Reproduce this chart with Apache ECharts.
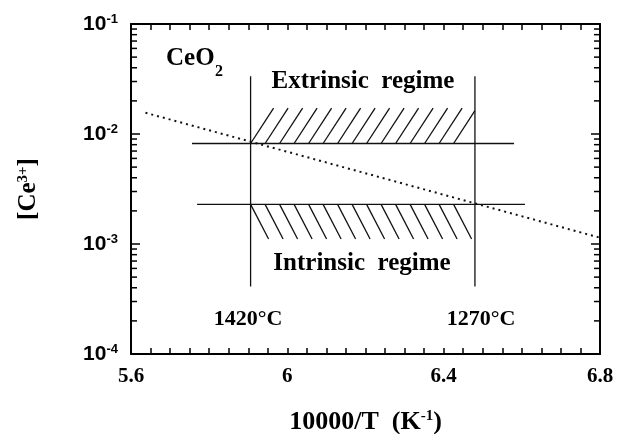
<!DOCTYPE html>
<html><head><meta charset="utf-8">
<script src="https://cdn.jsdelivr.net/npm/echarts@6/dist/echarts.min.js"></script>
<style>html,body{margin:0;padding:0;background:#fff}#c{width:618px;height:434px}</style>
</head><body><div id="c"></div>
<script>
// ---- data ----
const xTickLabels = ['5.6', '6', '6.4', '6.8'];
const yTickExponents = ['-4', '-3', '-2', '-1'];
const yMinorTicks = [2e-4, 3e-4, 4e-4, 5e-4, 6e-4, 7e-4, 8e-4, 9e-4,
                     2e-3, 3e-3, 4e-3, 5e-3, 6e-3, 7e-3, 8e-3, 9e-3,
                     2e-2, 3e-2, 4e-2, 5e-2, 6e-2, 7e-2, 8e-2, 9e-2];
const tempLabels = ['1420°C', '1270°C'];
const tempLineX = [5.906, 6.480];          // 10000/T at 1420°C and 1270°C
const tempLineY = [4.1e-4, 0.0335];        // vertical extent of both lines
const extrinsicLineX = [5.756, 6.580];
const extrinsicLineY = [8.2e-3, 8.2e-3];
const intrinsicLineX = [5.769, 6.608];
const intrinsicLineY = [2.29e-3, 2.29e-3];
const dottedX = [5.637, 6.8];
const dottedY = [0.0156, 1.14e-3];
// hatched bands: [first line x, last line x, clip x, base y, tip y]
const extrinsicHatch = [5.906, 6.44, 6.48, 8.2e-3, 0.0172];
const intrinsicHatch = [5.906, 6.44, 6.48, 2.29e-3, 1.11e-3];

const serif = '"Liberation Serif", "Times New Roman", serif';
const sans = '"Liberation Sans", Arial, sans-serif';

function seg(xs, ys) { return xs.map((x, i) => [x, ys[i]]); }
const thin = {color: '#111', width: 1.3};

const chart = echarts.init(document.getElementById('c'), null, {renderer: 'canvas'});
const xCommon = {
  type: 'value', min: 5.6, max: 6.8, interval: 0.4,
  axisLine: {onZero: false, lineStyle: {color: '#000', width: 2}},
  axisTick: {inside: true, length: 6, lineStyle: {color: '#000', width: 1.5}},
  minorTick: {show: true, splitNumber: 8, length: 6, lineStyle: {color: '#000', width: 1.5}},
  splitLine: {show: false}
};
const yCommon = {
  type: 'log', logBase: 10, min: 1e-4, max: 1e-1,
  axisLine: {onZero: false, lineStyle: {color: '#000', width: 2}},
  axisTick: {inside: true, length: 9, lineStyle: {color: '#000', width: 1.5}},
  minorTick: {show: false},
  splitLine: {show: false}
};

chart.setOption({
  animation: false,
  backgroundColor: '#fff',
  grid: {left: 131, right: 18, top: 24, bottom: 80, containLabel: false, outerBoundsMode: 'none'},
  xAxis: [
    Object.assign({}, xCommon, {
      position: 'bottom',
      axisLabel: {
        margin: 12, color: '#000', fontFamily: serif, fontWeight: 'bold', fontSize: 21,
        formatter: v => xTickLabels.find(l => Math.abs(parseFloat(l) - v) < 1e-6) || ''
      },
      name: '10000/T  (K{s|-1})', nameLocation: 'middle', nameGap: 55,
      nameTextStyle: {
        color: '#000', fontFamily: serif, fontWeight: 'bold', fontSize: 26,
        rich: {s: {fontFamily: serif, fontWeight: 'bold', fontSize: 15, verticalAlign: 'top', lineHeight: 14}}
      }
    }),
    Object.assign({}, xCommon, {position: 'top', axisLabel: {show: false}})
  ],
  yAxis: [
    Object.assign({}, yCommon, {
      position: 'left',
      axisLabel: {
        margin: 13, color: '#000',
        formatter: v => {
          const e = Math.round(Math.log10(v));
          const lab = yTickExponents.find(s => parseInt(s, 10) === e);
          return lab ? '{b|10}{s|' + lab + '}' : '';
        },
        rich: {
          b: {fontFamily: sans, fontWeight: 'bold', fontSize: 21, lineHeight: 22, color: '#000'},
          s: {fontFamily: sans, fontWeight: 'bold', fontSize: 13, lineHeight: 12, verticalAlign: 'top', color: '#000'}
        }
      },
      name: '[Ce{s|3+}]', nameLocation: 'middle', nameGap: 90,
      nameTextStyle: {
        color: '#000', fontFamily: serif, fontWeight: 'bold', fontSize: 25,
        rich: {s: {fontFamily: serif, fontWeight: 'bold', fontSize: 15, verticalAlign: 'top', lineHeight: 12}}
      }
    }),
    Object.assign({}, yCommon, {position: 'right', axisLabel: {show: false}})
  ],
  series: [
    {type: 'line', data: seg(dottedX, dottedY), symbol: 'none',
     lineStyle: {color: '#111', width: 2, type: [2, 4]}},
    {type: 'line', data: seg([tempLineX[0], tempLineX[0]], tempLineY), symbol: 'none', lineStyle: thin},
    {type: 'line', data: seg([tempLineX[1], tempLineX[1]], tempLineY), symbol: 'none', lineStyle: thin},
    {type: 'line', data: seg(extrinsicLineX, extrinsicLineY), symbol: 'none', lineStyle: thin},
    {type: 'line', data: seg(intrinsicLineX, intrinsicLineY), symbol: 'none', lineStyle: thin},
    {
      type: 'custom', data: [extrinsicHatch, intrinsicHatch],
      encode: {x: [0, 1, 2], y: [3, 4]},
      renderItem: (params, api) => {
        const pb = api.coord([api.value(0), api.value(3)]);
        const pe = api.coord([api.value(1), api.value(4)]);
        const pc = api.coord([api.value(2), api.value(3)]);
        const h = pe[1] - pb[1];
        const dx = params.dataIndex === 0 ? 23 : 18;
        const step = 14.5;
        const children = [];
        for (let x = pb[0]; x <= pe[0] + 0.5; x += step) {
          let ex = x + dx, ey = pe[1];
          if (ex > pc[0]) { const t = (pc[0] - x) / dx; ex = pc[0]; ey = pb[1] + h * t; }
          children.push({type: 'line', shape: {x1: x, y1: pb[1], x2: ex, y2: ey},
                         style: {stroke: '#111', lineWidth: 1.3}});
        }
        return {type: 'group', children};
      }
    },
    {
      type: 'custom', data: yMinorTicks.map(v => [5.6, v]),
      renderItem: (params, api) => {
        const p = api.coord([api.value(0), api.value(1)]);
        const cs = params.coordSys;
        const st = {stroke: '#000', lineWidth: 1.5};
        return {type: 'group', children: [
          {type: 'line', shape: {x1: cs.x, y1: p[1], x2: cs.x + 6, y2: p[1]}, style: st},
          {type: 'line', shape: {x1: cs.x + cs.width, y1: p[1], x2: cs.x + cs.width - 6, y2: p[1]}, style: st}
        ]};
      }
    }
  ],
  graphic: [
    {type: 'text', left: 166, top: 46, style: {text: 'CeO', fontFamily: serif, fontWeight: 'bold', fontSize: 25, fill: '#000'}},
    {type: 'text', left: 215, top: 64, style: {text: '2', fontFamily: serif, fontWeight: 'bold', fontSize: 16, fill: '#000'}},
    {type: 'text', x: 363, y: 82, style: {text: 'Extrinsic  regime', fontFamily: serif, fontWeight: 'bold', fontSize: 25, fill: '#000', align: 'center', verticalAlign: 'middle'}},
    {type: 'text', x: 362, y: 264, style: {text: 'Intrinsic  regime', fontFamily: serif, fontWeight: 'bold', fontSize: 25, fill: '#000', align: 'center', verticalAlign: 'middle'}},
    {type: 'text', x: 248, y: 319, style: {text: tempLabels[0], fontFamily: serif, fontWeight: 'bold', fontSize: 22, fill: '#000', align: 'center', verticalAlign: 'middle'}},
    {type: 'text', x: 481, y: 319, style: {text: tempLabels[1], fontFamily: serif, fontWeight: 'bold', fontSize: 22, fill: '#000', align: 'center', verticalAlign: 'middle'}}
  ]
});
</script>
</body></html>
